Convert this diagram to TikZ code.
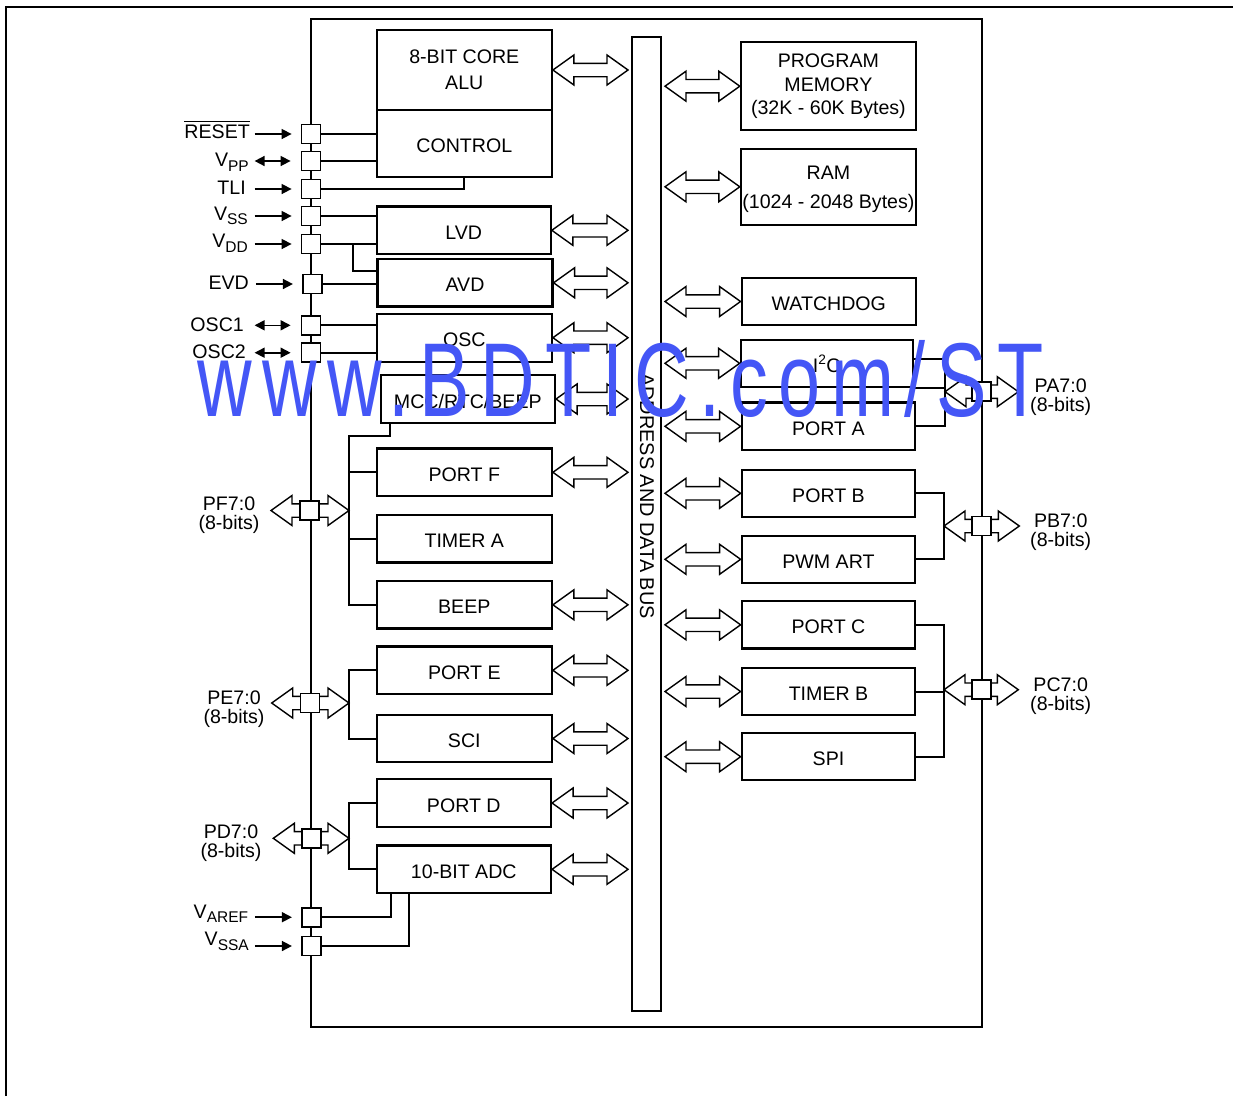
\documentclass[tikz,border=0pt]{standalone}
\usepackage{fontspec}
\setmainfont{Liberation Sans}
\usetikzlibrary{arrows.meta,calc}

\definecolor{wmblue}{RGB}{68,86,246}
% lowered subscript of the pin names
\newcommand{\pinsub}[1]{\raisebox{-4.5pt}{\fontsize{15.5pt}{16pt}\selectfont #1}}
% hollow double arrow from #1 to #2 (same height)
\newcommand{\dbarrow}[2]{%
  \draw[busarrow] let \p1=(#1), \p2=(#2) in
    (\p1) -- ++(21pt,15pt) -- ++(0pt,-8.3pt) -- (\x2-21pt,\y1+6.7pt) -- ++(0pt,8.3pt)
    -- (\x2,\y1) -- ++(-21pt,-15pt) -- ++(0pt,8.3pt) -- (\x1+21pt,\y1-6.7pt)
    -- ++(0pt,-8.3pt) -- cycle;}

\begin{document}
\begin{tikzpicture}[x=1pt,y=-1pt,
    every node/.style={font=\fontsize{19.6pt}{23pt}\selectfont},
    box/.style={draw, line width=2.2pt, minimum width=175pt, minimum height=47.5pt, inner sep=0pt, align=center},
    blk/.style={box, text height=18pt, text depth=0pt},
    pinsq/.style={draw, fill=white, line width=1.8pt, minimum size=19pt, inner sep=0pt},
    lbl/.style={inner sep=0pt, anchor=base east},
    plbl/.style={inner sep=0pt, align=center, font=\fontsize{19.6pt}{19pt}\selectfont},
    wire/.style={line width=2pt},
    pinarr/.style={line width=1.6pt, -{Triangle[length=10pt,width=10pt]}},
    pinarrb/.style={line width=1.6pt, {Triangle[length=10pt,width=10pt]}-{Triangle[length=10pt,width=10pt]}},
    busarrow/.style={line width=1.4pt, line join=miter}]
\useasboundingbox (0,0) rectangle (1233,1096);
% page frame and chip outline
\draw[line width=1.4pt] (6,1096) -- (6,7) -- (1233,7);
\draw[line width=2pt] (311,19) rectangle (982,1027);

% address and data bus
\node[draw, line width=2pt, minimum width=29pt, minimum height=973.4pt, inner sep=0pt] (bus) at (646.5,524) {};
\node[rotate=-90, font=\fontsize{19.9pt}{23pt}\selectfont] (bustxt) at (647,496) {ADDRESS AND DATA BUS};
\coordinate (busl) at ([xshift=-3pt]bus.west);
\coordinate (busr) at ([xshift=3pt]bus.east);

% blocks, left column
\node[box, minimum height=80pt, font=\fontsize{19.6pt}{26pt}\selectfont] (alu) at (464.3,70) {8-BIT CORE\\ALU};
\node[blk, minimum height=66.7pt] (control) at (464.3,143.3) {CONTROL};
\node[blk, minimum width=174pt] (lvd) at (463.7,230.3) {LVD};
\node[blk] (avd) at (465,282.8) {AVD};
\node[blk, minimum height=48pt] (osc) at (464.3,337.7) {OSC};
\node[blk, minimum width=174.3pt, minimum height=48pt] (mcc) at (467.8,399) {MCC/RTC/BEEP};
\node[blk] (portf) at (464.3,472.3) {PORT F};
\node[blk] (timera) at (464.3,538.8) {TIMER A};
\node[blk] (beep) at (464.3,604.8) {BEEP};
\node[blk] (porte) at (464.3,670.3) {PORT E};
\node[blk] (sci) at (464.3,738.5) {SCI};
\node[blk, minimum width=174.3pt] (portd) at (463.8,803) {PORT D};
\node[blk, minimum width=174.3pt] (adc) at (463.8,869.3) {10-BIT ADC};

% blocks, right column
\node[box, minimum height=88.3pt, font=\fontsize{19.6pt}{23.3pt}\selectfont] (pm) at (828.4,86.2) {PROGRAM\\MEMORY\\(32K - 60K Bytes)};
\node[box, minimum height=76.3pt, text depth=0pt] (ram) at (828.4,186.8) {RAM\\[6pt](1024 - 2048 Bytes)};
\node[blk, minimum width=174.3pt] (wd) at (828.8,301.5) {WATCHDOG};
\node[blk, minimum width=172pt, minimum height=46.7pt] (i2c) at (826.7,363.3) {I\textsuperscript{2}C};
\node[blk, minimum width=173.3pt] (porta) at (828.3,426.3) {PORT A};
\node[blk, minimum width=173.6pt, minimum height=46.7pt] (portb) at (828.5,493.3) {PORT B};
\node[blk, minimum width=173.6pt, minimum height=46.7pt] (pwm) at (828.5,559.3) {PWM ART};
\node[blk, minimum width=173.6pt] (portc) at (828.5,624.8) {PORT C};
\node[blk, minimum width=173.6pt, minimum height=47pt] (timerb) at (828.5,691.5) {TIMER B};
\node[blk, minimum width=173.6pt, minimum height=46.7pt] (spi) at (828.5,756.7) {SPI};

% pins
\foreach \n/\x/\y in {reset/311/134, vpp/311/161, tli/311/189, vss/311/216, vdd/311/244,
    evd/312.3/284, osc1/311/325.3, osc2/311/352.7, varef/311.3/917.2, vssa/311.3/946}
  \node[pinsq] (\n) at (\x,\y) {};
\coordinate (pf) at (309.5,510.5);
\coordinate (pe) at (310,703);
\coordinate (pd) at (311.3,838.3);
\coordinate (pa) at (981.3,391.7);
\coordinate (pb) at (981.3,526);
\coordinate (pc) at (981.3,689.7);

% pin names
\node[lbl] (lreset) at (250,138.3) {RESET};
\draw[line width=1.2pt] ([yshift=3.2pt]lreset.north west) -- ([yshift=3.2pt]lreset.north east);
\node[lbl] (lvpp) at (249,166.7) {V\pinsub{PP}};
\node[lbl] (ltli) at (246,194) {TLI};
\node[lbl] (lvss) at (248,220) {V\pinsub{SS}};
\node[lbl] (lvdd) at (248,247.7) {V\pinsub{DD}};
\node[lbl] (levd) at (249,289.3) {EVD};
\node[lbl] (losc1) at (244,331) {OSC1};
\node[lbl] (losc2) at (246,358.7) {OSC2};
\node[lbl] (lvaref) at (248.3,918.3) {V\pinsub{AREF}};
\node[lbl] (lvssa) at (249,945.7) {V\pinsub{SSA}};
\node[plbl] (lpf) at (229,515.5) {PF7:0\\(8-bits)};
\node[plbl] (lpe) at (234,708.7) {PE7:0\\(8-bits)};
\node[plbl] (lpd) at (231,842.7) {PD7:0\\(8-bits)};
\node[plbl] (lpa) at (1060.7,397.5) {PA7:0\\(8-bits)};
\node[plbl] (lpb) at (1060.7,532.5) {PB7:0\\(8-bits)};
\node[plbl] (lpc) at (1060.7,696.5) {PC7:0\\(8-bits)};

% pin arrows
\foreach \n in {reset,tli,vss,vdd,evd,varef,vssa}
  \draw[pinarr] ([xshift=-46pt]\n.west) -- ([xshift=-9pt]\n.west);
\foreach \n in {vpp,osc1,osc2}
  \draw[pinarrb] ([xshift=-46pt]\n.west) -- ([xshift=-10pt]\n.west);

% wiring, left side
\draw[wire] (reset) -- (reset -| control.west);
\draw[wire] (vpp) -- (vpp -| control.west);
\draw[wire] (tli) -| (control.south);
\draw[wire] (vss) -- (vss -| lvd.west);
\draw[wire] (vdd) -- (vdd -| lvd.west);
\coordinate (vddj) at (352.7,244);
\draw[wire] (vddj) |- ([yshift=12pt]avd.west);
\draw[wire] (evd) -- (evd -| avd.west);
\draw[wire] (osc1) -- (osc1 -| osc.west);
\draw[wire] (osc2) -- (osc2 -| osc.west);
\coordinate (fbus) at (349,435.7);
\draw[wire] ([xshift=10pt]mcc.south west) |- (fbus) |- (beep.west);
\draw[wire] (fbus |- portf.west) -- (portf.west);
\draw[wire] (fbus |- timera.west) -- (timera.west);
\draw[wire] (porte.west) -| (fbus |- sci.west) -- (sci.west);
\draw[wire] (portd.west) -| (fbus |- adc.west) -- (adc.west);
\draw[wire] (varef) -| ([xshift=15.3pt]adc.south west);
\draw[wire] (vssa) -| ([xshift=33.3pt]adc.south west);

% wiring, right side
\coordinate (pabr) at (945,0);
\coordinate (pbbr) at (944,0);
\draw[wire] ([yshift=4pt]i2c.east) -| (pabr |- porta.east) -- (porta.east);
\draw[wire] (i2c.south east) -- (pabr |- i2c.south);
\draw[wire] (portb.east) -| (pbbr |- pwm.east) -- (pwm.east);
\draw[wire] (portc.east) -| (pbbr |- spi.east) -- (spi.east);
\draw[wire] (timerb.east) -- (pbbr |- timerb.east);

% bus arrows
\foreach \b in {alu,lvd,avd,osc,mcc,portf,beep,porte,sci,portd,adc}
  {\dbarrow{\b.east}{busl |- \b.east}}
\foreach \b in {pm,ram,wd,i2c,porta,portb,pwm,portc,timerb,spi}
  {\dbarrow{busr |- \b.west}{\b.west}}

% port arrows
\coordinate (pfl) at ([xshift=-38.5pt]pf);
\coordinate (pel) at ([xshift=-38.3pt]pe);
\coordinate (pdl) at ([xshift=-38pt]pd);
\coordinate (par) at ([xshift=37pt]pa);
\coordinate (pbr) at ([xshift=38pt]pb);
\coordinate (pcr) at ([xshift=37pt]pc);
\dbarrow{pfl}{fbus |- pf}
\dbarrow{pel}{fbus |- pe}
\dbarrow{pdl}{fbus |- pd}
\dbarrow{pabr |- pa}{par}
\dbarrow{pbbr |- pb}{pbr}
\dbarrow{pbbr |- pc}{pcr}
\foreach \n in {pf,pe,pd,pa,pb,pc}
  \node[pinsq] (sq\n) at (\n) {};

% watermark
\node[inner sep=0pt, anchor=base west, text=wmblue] (wm) at (197,416.5)
  {\fontsize{105pt}{105pt}\selectfont\addfontfeature{LetterSpace=13.9}\scalebox{0.72}[1]{www.BDTIC.com/ST}};
\end{tikzpicture}
\end{document}
